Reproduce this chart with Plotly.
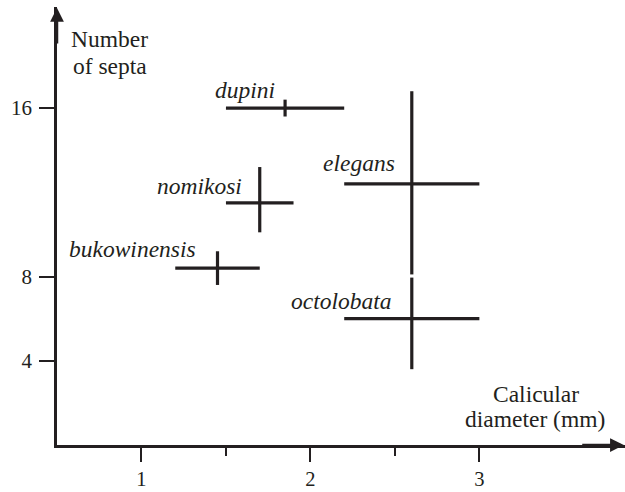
import plotly.graph_objects as go

# --- data ---
species = ["dupini", "nomikosi", "bukowinensis", "elegans", "octolobata"]
x_center = [1.85, 1.7, 1.45, 2.6, 2.6]
x_min = [1.5, 1.5, 1.2, 2.2, 2.2]
x_max = [2.2, 1.9, 1.7, 3.0, 3.0]
y_center = [16, 11.5, 8.4, 12.4, 6.0]
y_min = [15.6, 10.1, 7.6, 8.1, 3.6]
y_max = [16.4, 13.2, 9.2, 16.8, 7.95]

label_x = [1.803, 1.606, 1.335, 2.514, 2.495]
label_y = [16.88, 12.3, 9.29, 13.37, 6.86]

x_ticks = [1, 2, 3]
x_minor_ticks = [1.5, 2.5]
y_ticks = [4, 8, 16]

INK = "#231f20"
FONT = "Liberation Serif"

fig = go.Figure()

xs, ys = [], []
for i in range(len(species)):
    xs += [x_min[i], x_max[i], None, x_center[i], x_center[i], None]
    ys += [y_center[i], y_center[i], None, y_min[i], y_max[i], None]

fig.add_trace(go.Scatter(x=xs, y=ys, mode="lines",
                         line=dict(color=INK, width=3.2),
                         hoverinfo="skip", showlegend=False))

for i, name in enumerate(species):
    fig.add_annotation(x=label_x[i], y=label_y[i], text="<i>%s</i>" % name,
                       xanchor="right", yanchor="middle", showarrow=False,
                       font=dict(family=FONT, size=23.5, color=INK))

# axis arrows
fig.add_annotation(x=3.855, y=0, ax=3.6, ay=0, xref="x", yref="y",
                   axref="x", ayref="y", showarrow=True, arrowhead=2,
                   arrowwidth=2.5, arrowsize=1.1, arrowcolor=INK, text="")
fig.add_annotation(x=0.5, y=20.75, ax=0.5, ay=19.0, xref="x", yref="y",
                   axref="x", ayref="y", showarrow=True, arrowhead=2,
                   arrowwidth=2.5, arrowsize=1.1, arrowcolor=INK, text="")

# axis titles (one annotation per line for tight line spacing)
title_lines = [("Number", 0.809, 19.26), ("of septa", 0.815, 18.02),
               ("Calicular", 3.333, 2.4), ("diameter (mm)", 3.332, 1.22)]
for txt, tx, ty in title_lines:
    fig.add_annotation(x=tx, y=ty, text=txt, showarrow=False,
                       xanchor="center", yanchor="middle",
                       font=dict(family=FONT, size=23.5, color=INK))

fig.update_xaxes(range=[0.5, 3.862], showline=True, linewidth=2.5, linecolor=INK,
                 showgrid=False, zeroline=False, tickmode="array", tickvals=x_ticks,
                 ticktext=[str(v) for v in x_ticks], automargin=False,
                 ticks="outside", ticklen=14, tickwidth=1.5, tickcolor=INK,
                 ticklabelstandoff=0,
                 minor=dict(tickmode="array", tickvals=x_minor_ticks, ticks="outside",
                            ticklen=8, tickwidth=1.5, tickcolor=INK, showgrid=False),
                 tickfont=dict(family=FONT, size=20.5, color=INK))
fig.update_yaxes(range=[0, 20.8], showline=True, linewidth=2.5, linecolor=INK,
                 showgrid=False, zeroline=False, tickmode="array", tickvals=y_ticks,
                 ticktext=[str(v) for v in y_ticks], automargin=False,
                 ticks="outside", ticklen=15, tickwidth=1.5, tickcolor=INK,
                 ticklabelstandoff=3,
                 tickfont=dict(family=FONT, size=21, color=INK))

fig.update_layout(width=625, height=492, margin=dict(l=57, r=0, t=7, b=47),
                  plot_bgcolor="white", paper_bgcolor="white", showlegend=False)

fig.write_html("out.html", config={"displayModeBar": False},
               post_script="document.body.style.margin='0';document.body.style.overflow='hidden';")
